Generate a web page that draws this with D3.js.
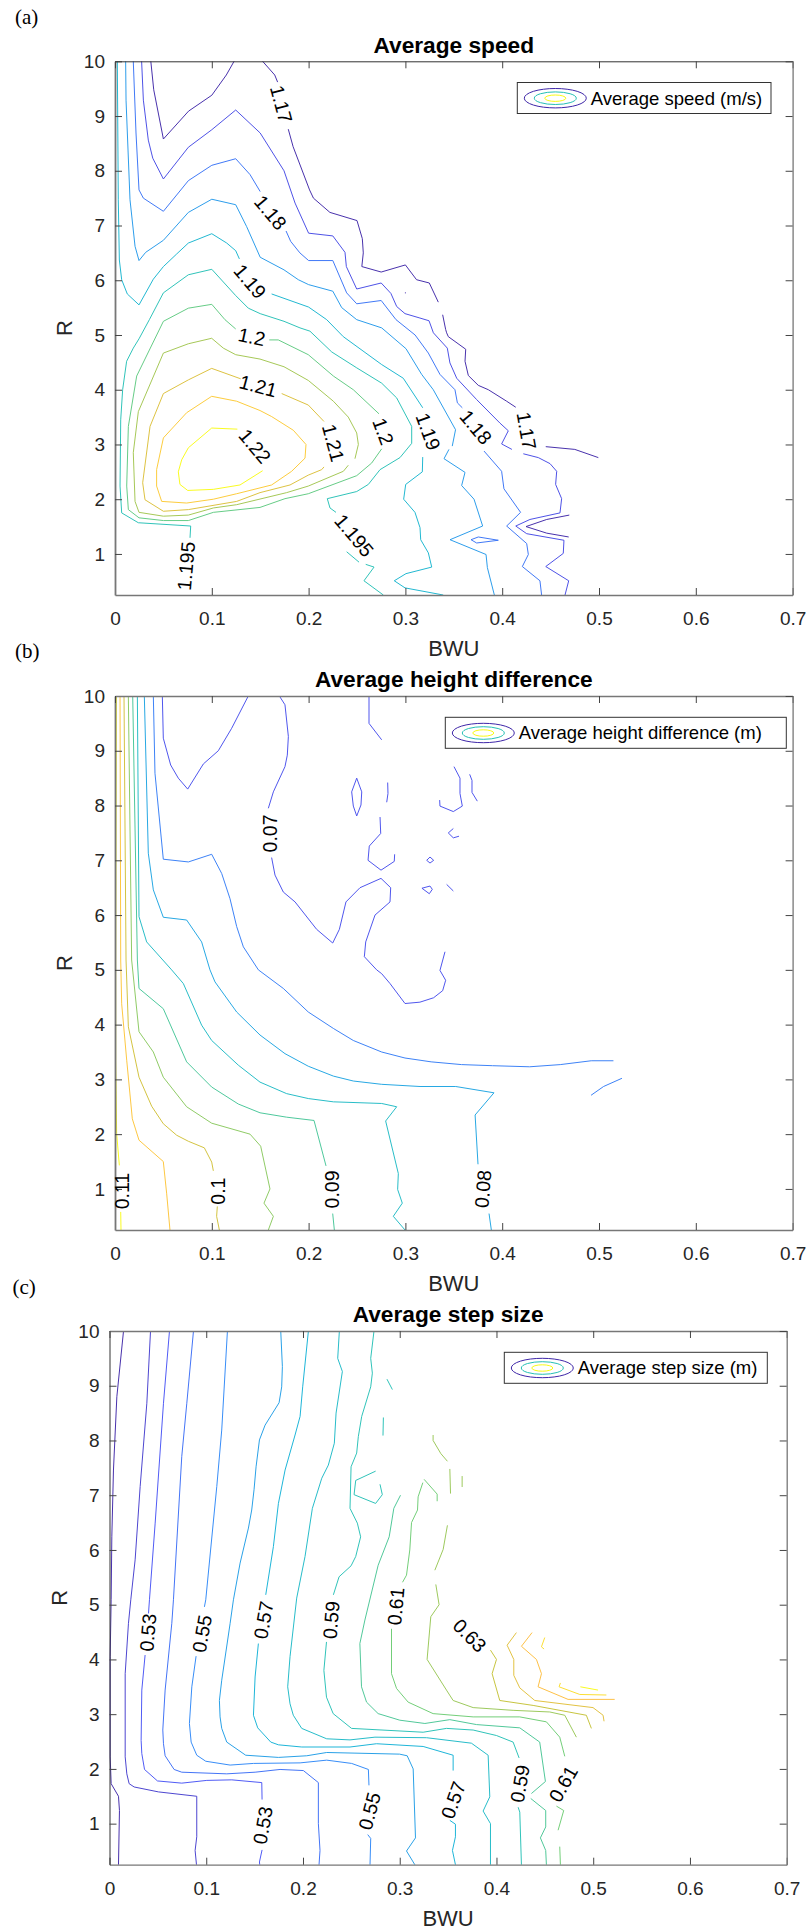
<!DOCTYPE html>
<html>
<head>
<meta charset="utf-8">
<script src="https://cdn.jsdelivr.net/npm/d3@7/dist/d3.min.js"></script>
<style>
  html, body { margin: 0; background: #fff; }
  text { font-family: "Liberation Sans", Arial, sans-serif; }
</style>
</head>
<body>
<div id="chart"></div>
<script>
//Contour plots of three walking measures over BWU and R.

var bwuTicks = [0, 0.1, 0.2, 0.3, 0.4, 0.5, 0.6, 0.7];
var rTicks = [1, 2, 3, 4, 5, 6, 7, 8, 9, 10];
var bwuRange = [0, 0.7];
var rRange = [0.25, 10];

var speedLevelRange = [1.17, 1.22];
var speedLines = [
  [1.17, [[.037,10],[.04,9.48],[.05,8.58],[.076,9.09],[.1,9.38],[.115,9.75],[.123,10]]],
  [1.17, [[.1525,10],[.165,9.75],[.168,9.62]]],
  [1.17, [[.179,8.76],[.184,8.44],[.201,7.65],[.205,7.5],[.222,7.24],[.25,7.09],[.2555,6.76],[.2565,6.5],[.255,6.25],[.275,6.15],[.3,6.28],[.3115,6.01],[.3247,5.95],[.334,5.6]]],
  [1.17, [[.3385,5.37],[.3416,5.1],[.3426,5.04],[.3443,4.97],[.3623,4.74],[.3616,4.52],[.365,4.26],[.3753,4.08],[.3857,4],[.4046,3.79],[.414,3.68]]],
  [1.17, [[.445,2.96],[.475,2.91],[.4993,2.76]]],
  [1.17, [[.4693,1.71],[.446,1.63],[.4246,1.5],[.446,1.38],[.4687,1.31]]],
  [1.17, [[.2995,5.77],[.3005,5.77]]],
  [1.175, [[.0275,10],[.0293,9.29],[.0344,8.56],[.039,8.23],[.05,7.85],[.0758,8.43],[.1,8.75],[.1247,9.11],[.15,8.69],[.1746,8],[.186,7.41],[.2,6.86],[.225,6.81],[.2376,6.51],[.239,6.25],[.2497,5.84],[.275,5.95],[.285,5.76],[.291,5.52],[.2996,5.39],[.315,5.31],[.3244,5.26],[.3289,5.04],[.3433,4.76],[.346,4.49],[.353,4.21],[.3736,3.82],[.3977,3.39],[.4063,3.25],[.3994,3.01],[.41,2.91]]],
  [1.175, [[.4218,2.83],[.4373,2.76],[.4494,2.65],[.4563,2.51],[.4552,2.27],[.4614,2.01],[.4597,1.75],[.4287,1.63],[.414,1.51],[.4253,1.37],[.4638,1.25],[.4631,1.01],[.445,.77],[.4687,.51],[.4649,.25]]],
  [1.18, [[.0189,10],[.0217,8.69],[.0248,7.65],[.0293,7.5],[.05,7.26],[.0758,7.82],[.1,8.1],[.1247,8.22],[.1395,7.93],[.15,7.62]]],
  [1.18, [[.1767,6.9],[.1815,6.71],[.191,6.5],[.2,6.36],[.225,6.36],[.2393,5.77],[.2497,5.57],[.275,5.63],[.2903,5.28],[.31,5],[.3237,4.67],[.3357,4.28],[.3512,4],[.3537,3.76],[.3588,3.67]]],
  [1.18, [[.3812,2.88],[.3994,2.51],[.4018,2.19],[.419,1.76],[.4046,1.51],[.4253,1.19],[.427,.99],[.4208,.77],[.439,.51],[.4407,.25]]],
  [1.18, [[.3678,1.26],[.3753,1.31],[.396,1.25],[.3736,1.2],[.3678,1.26]]],
  [1.185, [[.011,10],[.0114,9.29],[.0155,7.47],[.0207,6.62],[.0248,6.36],[.0317,6.51],[.05,6.73],[.0758,7.24],[.1,7.48],[.1247,7.38],[.136,6.98],[.15,6.42],[.1746,6.19],[.1894,6.01],[.2,5.92],[.225,5.8],[.2342,5.5],[.2497,5.28],[.2755,5.13],[.3006,4.75],[.3168,4.28],[.3288,4],[.3518,3.27],[.3484,2.97]]],
  [1.185, [[.345,2.91],[.3399,2.74],[.3616,2.49],[.3581,2.25],[.3709,2],[.3798,1.51],[.3461,1.26],[.3833,.99],[.3847,.75],[.3919,.25]]],
  [1.19, [[.0024,10],[.0034,7.47],[.0045,6.37],[.0069,6.01],[.0127,5.75],[.0248,5.55],[.0396,6.02],[.05,6.25],[.0637,6.48],[.0758,6.68],[.1,6.85],[.1154,6.68],[.1247,6.54],[.1285,6.39]]],
  [1.19, [[.1618,5.75],[.2,5.51],[.2187,5.28],[.2358,4.97],[.2755,4.46],[.2978,4.21],[.3179,3.67]]],
  [1.19, [[.3179,2.77],[.3175,2.5],[.3003,2.27],[.2982,2],[.3099,1.76],[.3151,1.48],[.3158,1.26],[.3237,1.02],[.3272,.76],[.3006,.64],[.2885,.51],[.2996,.38],[.3391,.25]]],
  [1.195, [[.0775,1.295],[.0782,1.51],[.0241,1.57],[.0069,1.75],[.0052,2.24],[.0059,3.45],[.0079,4],[.012,4.52],[.0189,4.76],[.0248,4.93],[.0355,5.28],[.05,5.77],[.0758,6.1],[.1,6.2],[.1247,5.72],[.1377,5.49],[.15,5.39],[.1746,5.25],[.1911,5.13],[.2014,5.07],[.2239,4.69],[.2497,4.4],[.2755,4.12],[.291,3.85],[.3065,3.33],[.3065,3.02],[.2944,2.76],[.2738,2.54],[.2617,2.27],[.2497,2.14],[.2193,2.01],[.2221,1.84],[.2283,1.76]]],
  [1.195, [[.2393,1.04],[.2521,.85]]],
  [1.195, [[.259,.81],[.2676,.76],[.2572,.51],[.2772,.25]]],
  [1.2, [[.1247,5.11],[.1136,5.28],[.1,5.56],[.0758,5.49],[.05,5.25],[.0224,4.25],[.0138,3.33],[.0121,2.24],[.0138,1.81],[.0248,1.66],[.05,1.61],[.0758,1.61],[.1016,1.76],[.1498,1.85],[.1756,2.01],[.1997,2.1],[.2497,2.43],[.2651,2.66],[.2755,2.92]]],
  [1.2, [[.2727,3.56],[.2462,4],[.2256,4.25],[.1997,4.64],[.1687,4.91],[.1594,4.91]]],
  [1.205, [[.2479,2.74],[.2514,3],[.2497,3.21],[.241,3.5],[.2256,3.79],[.1997,4.17],[.1746,4.42],[.1498,4.56],[.1247,4.64],[.1119,4.76],[.0999,4.94],[.0758,4.84],[.05,4.67],[.0241,3.6],[.0189,2.85],[.0207,1.96],[.0248,1.76],[.05,1.69],[.0758,1.71],[.1016,1.84],[.1257,1.9],[.1773,2.12],[.1997,2.24],[.2359,2.51],[.241,2.62]]],
  [1.21, [[.1298,4.2],[.0999,4.39],[.0758,4.18],[.05,3.93],[.0362,3.33],[.0286,2.3],[.031,1.99],[.05,1.78],[.0758,1.81],[.1257,1.96],[.1498,2.12],[.1808,2.26],[.1997,2.44],[.2135,2.54],[.2159,2.59]]],
  [1.21, [[.2159,3.42],[.1997,3.72],[.1722,3.93]]],
  [1.215, [[.0999,3.88],[.1257,3.79],[.1498,3.62],[.1618,3.51],[.1842,3.26],[.1973,3],[.1963,2.75],[.1825,2.51],[.1618,2.26],[.1257,2.1],[.1016,2],[.074,1.93],[.0482,1.96],[.043,2.24],[.043,2.54],[.05,3.12],[.074,3.58],[.0999,3.88]]],
  [1.22, [[.1264,3.28],[.0999,3.3],[.0758,2.94],[.0689,2.72],[.0654,2.5],[.0671,2.27],[.0751,2.16],[.1016,2.18],[.1291,2.26],[.1525,2.52]]]
];
//[text, BWU, R, rotation]
var speedLabels = [
  ["1.17", .172, 9.22, 75], ["1.18", .1608, 7.24, 50], ["1.19", .1395, 5.98, 50],
  ["1.2", .1412, 4.97, 12], ["1.21", .148, 4.07, 15], ["1.22", .1446, 2.97, 50],
  ["1.21", .2256, 3.03, 75], ["1.2", .2772, 3.24, 70], ["1.195", .0733, .78, -85],
  ["1.195", .2472, 1.34, 50], ["1.19", .3237, 3.24, 70], ["1.18", .3729, 3.32, 50],
  ["1.17", .4253, 3.25, 80]
];

var heightLevelRange = [0.065, 0.11];
var heightLines = [
  [.07, [[.0489,10],[.0499,9.23],[.0575,8.74],[.0654,8.5],[.0751,8.3],[.0913,8.76],[.1067,9],[.1205,9.41],[.1377,10]]],
  [.07, [[.1698,10],[.1756,9.84],[.1791,9.26],[.178,8.92],[.1756,8.71],[.1636,8.25],[.1584,7.95]]],
  [.07, [[.1618,7.05],[.1653,6.73],[.1739,6.42],[.186,6.24],[.2083,5.74],[.2249,5.49],[.2318,5.74],[.2386,6.24],[.2531,6.5],[.2748,6.67],[.2848,6.5],[.2841,6.24],[.2686,6],[.259,5.51],[.2576,5.24],[.2703,5],[.2755,4.93],[.2841,4.75],[.2996,4.385],[.315,4.41],[.3291,4.49],[.3385,4.62],[.3416,4.81],[.3357,4.99],[.3409,5.33]]],
  [.07, [[.2624,10],[.2624,9.5],[.2755,9.2]]],
  [.07, [[.2497,8.5],[.2445,8.25],[.2462,7.99],[.2497,7.81],[.2541,8.01],[.2549,8.25],[.2497,8.5]]],
  [.07, [[.2817,8.42],[.282,8.22],[.2807,8.06]]],
  [.07, [[.2738,7.79],[.2745,7.49],[.2627,7.26],[.2614,7],[.2748,6.82],[.2885,6.98],[.2889,7.11]]],
  [.07, [[.3502,8.71],[.3564,8.5],[.3564,8.22],[.3588,7.99],[.3495,7.89],[.3357,7.99],[.3354,8.1]]],
  [.07, [[.3664,8.57],[.3688,8.46],[.3688,8.24],[.3743,8.08]]],
  [.07, [[.3495,7.58],[.3443,7.5],[.3495,7.41],[.3554,7.44]]],
  [.07, [[.3254,7.06],[.322,7],[.3254,6.95],[.3292,7],[.3254,7.06]]],
  [.07, [[.3171,6.49],[.3254,6.53],[.3278,6.47],[.3247,6.39],[.3171,6.49]]],
  [.07, [[.3426,6.56],[.3495,6.44]]],
  [.075, [[.0396,10],[.0413,8.59],[.0499,7.02],[.0758,6.97],[.0999,7.11],[.1102,6.76],[.1188,6.3],[.1257,5.79],[.1326,5.42],[.1481,5],[.1739,4.66],[.1997,4.23],[.2256,3.93],[.2462,3.71],[.2755,3.5],[.2996,3.39],[.3151,3.35],[.3266,3.32],[.358,3.27],[.39,3.25],[.4283,3.23],[.46,3.27],[.492,3.34],[.5149,3.34]]],
  [.075, [[.4918,2.71],[.5047,2.87],[.5237,3.02]]],
  [.08, [[.0303,10],[.0344,7.13],[.0396,6.46],[.0499,5.96],[.074,5.91],[.0895,5.51],[.0981,5],[.1033,4.78],[.1257,4.23],[.1498,3.81],[.1756,3.47],[.1997,3.24],[.2256,3.06],[.2462,2.97],[.2755,2.91],[.3151,2.87],[.352,2.87],[.3915,2.755],[.372,2.35],[.375,1.45]]],
  [.08, [[.3864,.55],[.3888,.25]]],
  [.085, [[.0231,10],[.0248,5.97],[.0327,5.51],[.0585,5],[.0706,4.75],[.0895,3.99],[.0999,3.71],[.1274,3.26],[.1498,2.95],[.1773,2.74],[.1997,2.65],[.2256,2.59],[.2755,2.56],[.291,2.5],[.2796,2.24],[.2927,1.28],[.292,.99],[.2968,.74],[.2875,.5],[.2996,.25]]],
  [.09, [[.0183,10],[.0231,5.18],[.0248,4.66],[.0499,4.29],[.074,3.32],[.0999,2.86],[.1274,2.55],[.1498,2.39],[.1773,2.31],[.2056,2.25],[.218,1.42]]],
  [.09, [[.2249,.55],[.2266,.25]]],
  [.095, [[.0138,10],[.0172,5.18],[.0248,3.87],[.0396,3.5],[.0499,3.04],[.074,2.5],[.0999,2.2],[.1395,2],[.1505,1.78],[.1601,1],[.1539,.74],[.1636,.5],[.1584,.25]]],
  [.1, [[.0093,10],[.0114,5.18],[.0138,3.96],[.0248,3.04],[.0379,2.51],[.0499,2.19],[.0637,1.98],[.0758,1.87],[.0923,1.75],[.0999,1.49],[.1016,1.33]]],
  [.1, [[.1057,.68],[.105,.5],[.1078,.25]]],
  [.105, [[.0052,10],[.0059,5.18],[.0069,4.38],[.0121,3.35],[.0179,2.28],[.0248,1.89],[.0499,1.5],[.0534,.91],[.0568,.25]]],
  [.11, [[.0014,10],[.0007,5.18],[.0007,3.35],[.0017,2.01],[.0045,1.43]]],
  [.11, [[.0059,.58],[.0062,.25]]]
];
var heightLabels = [
  ["0.07", .1601, 7.49, -90], ["0.11", .0076, .96, -90], ["0.1", .1067, .96, -90],
  ["0.09", .2238, .99, -90], ["0.08", .38, 1, -85]
];

var stepLevelRange = [0.51, 0.67];
var stepLines = [
  [.51, [[.0145,10],[.0076,8.8],[.0041,7.46],[.0024,6.24],[.0017,5.09],[.0007,4.05],[.0007,2.22],[.0017,1.73],[.0093,1.5],[.0103,1.24],[.0093,.25]]],
  [.52, [[.0424,10],[.0386,8.68],[.0317,7.16],[.0265,5.82],[.022,5.09],[.0196,4.66],[.0162,3.74],[.0162,2.22],[.0179,1.91],[.0203,1.73],[.0255,1.67],[.0506,1.58],[.0902,1.5],[.0902,.76],[.0885,.51],[.0899,.25]]],
  [.53, [[.062,10],[.0558,8.68],[.0472,6.49],[.0413,5.09],[.0403,4.84]]],
  [.53, [[.0368,4.08],[.0334,3.44],[.0327,2.52],[.0334,2.28],[.0362,1.99],[.0496,1.78],[.0747,1.74],[.1006,1.79],[.1264,1.8],[.1574,1.75],[.1577,1.44]]],
  [.53, [[.1577,.52],[.155,.3],[.1553,.25]]],
  [.54, [[.0868,10],[.0799,8.68],[.0747,7.71],[.0661,5.09],[.0644,4.66],[.0575,3.44],[.0551,2.71],[.0558,2.46],[.0575,2.24],[.0668,1.99],[.0747,1.94],[.1212,1.91],[.1505,1.94],[.1763,1.99],[.2004,1.97],[.2159,1.75],[.2159,1],[.2176,.51],[.2166,.25]]],
  [.55, [[.1219,10],[.116,8.19],[.1109,7.16],[.0995,5.09],[.0981,4.96]]],
  [.55, [[.0895,4.06],[.0851,3.5],[.0826,2.83],[.0844,2.49],[.0902,2.25],[.0995,2.14],[.1247,2.07],[.1488,2.1],[.197,2.11],[.2245,2.16],[.2503,2.1],[.2676,1.99],[.2682,1.7]]],
  [.55, [[.2669,.8],[.27,.73],[.2693,.25]]],
  [.56, [[.177,10],[.1787,9.35],[.178,8.98],[.1753,8.69],[.1608,8.28],[.155,8.01],[.1515,7.52],[.1494,7.1],[.147,6.73],[.1436,6.4],[.135,5.76],[.1281,5.09],[.1247,4.66],[.116,3.62],[.1136,3.25],[.1143,2.95],[.116,2.74],[.1212,2.49],[.1408,2.25],[.1746,2.21],[.2039,2.24],[.2245,2.3],[.2998,2.27],[.3077,2.24],[.3139,2],[.3163,.74],[.307,.5],[.3156,.25]]],
  [.57, [[.2056,10],[.1997,8.98],[.197,8.44],[.1918,8.1],[.1815,7.46],[.1746,6.85],[.1694,6.06],[.1615,5.18]]],
  [.57, [[.1539,4.29],[.1505,3.68],[.1488,2.98],[.1532,2.75],[.1667,2.49],[.1746,2.44],[.1987,2.4],[.2486,2.4],[.276,2.46],[.3242,2.41],[.3552,2.25],[.3552,1.97]]],
  [.57, [[.3518,1.06],[.3576,.99],[.3576,.76],[.3545,.51],[.3576,.25]]],
  [.58, [[.2376,10],[.2359,9.5],[.2407,9.26],[.2342,8.5],[.2324,7.95],[.2262,7.55],[.2194,7.31],[.2097,6.76],[.2021,5.88],[.1935,5.12],[.1866,4.05],[.1842,3.5],[.1866,3.19],[.19,2.98],[.1987,2.74],[.2245,2.55],[.2486,2.53],[.2744,2.58],[.3277,2.57],[.3741,2.47],[.3914,2.25],[.3931,1.49],[.3862,1.23],[.3938,1],[.3938,.25]]],
  [.59, [[.2734,10],[.27,9.5],[.2717,9.23],[.27,8.98],[.2607,8.44],[.2572,8.07],[.2555,7.77],[.2497,7.52],[.2486,6.76],[.2562,6.49],[.2596,6.24],[.2545,5.88],[.2497,5.71],[.2373,5.51],[.2314,5.18]]],
  [.59, [[.2243,4.32],[.2216,3.8],[.2243,3.31],[.2312,3.01],[.2502,2.74],[.3242,2.67],[.3483,2.74],[.3759,2.71],[.4,2.61],[.4172,2.49],[.4234,2.2]]],
  [.59, [[.4224,1.3],[.4241,1.21],[.4258,.25]]],
  [.59, [[.2868,9.12],[.2924,8.93]]],
  [.59, [[.2831,8.42],[.2827,8.09]]],
  [.59, [[.2751,7.44],[.2545,7.27],[.2528,7.01],[.2751,6.85],[.282,7.01],[.2796,7.2]]],
  [.6, [[.3008,7],[.2939,6.76],[.2891,6.24],[.2777,5.72],[.264,4.72],[.2588,4.29],[.2605,3.5],[.2657,3.22],[.2777,3.01],[.3001,2.89],[.326,2.83],[.3518,2.9],[.3793,2.81],[.4241,2.75],[.4447,2.49],[.4506,1.77],[.4361,1.55]]],
  [.6, [[.4354,1.46],[.4509,1.24],[.4509,.94],[.4454,.74],[.4509,.51],[.4516,.25]]],
  [.61, [[.3252,7.29],[.3387,7.02],[.3387,6.89]]],
  [.61, [[.3239,7.23],[.319,6.97],[.3184,6.73],[.3122,6.5],[.3104,6],[.307,5.54],[.3029,5.41]]],
  [.61, [[.2915,4.56],[.2915,3.74],[.2967,3.47],[.3087,3.22],[.3345,3.01],[.3759,2.95],[.4241,2.95],[.4516,2.86],[.4654,2.58],[.4706,2.23]]],
  [.61, [[.462,1.32],[.4695,1.24],[.4637,.88]]],
  [.61, [[.4654,.58],[.4661,.25]]],
  [.62, [[.3345,8.1],[.3345,8],[.3425,7.76],[.3493,7.62]]],
  [.62, [[.3518,7.48],[.3525,7.03]]],
  [.62, [[.3645,7.35],[.3645,7.15]]],
  [.62, [[.3493,6.45],[.3449,6.01],[.3363,5.63]]],
  [.62, [[.3373,5.37],[.3407,5],[.3321,4.78],[.3283,4],[.3483,3.44],[.3552,3.25],[.3759,3.12],[.4172,3.07],[.4551,3.04],[.4706,2.98],[.4826,2.58]]],
  [.63, [[.3938,4.17],[.4,4],[.3955,3.74],[.4034,3.25],[.4379,3.16],[.4929,2.98],[.4981,2.74]]],
  [.64, [[.4206,4.49],[.411,4.26],[.4179,4],[.4179,3.71],[.4241,3.48],[.4396,3.25],[.4998,3.12],[.5102,2.98],[.5112,2.87]]],
  [.65, [[.4368,4.49],[.4258,4.24],[.4413,4],[.4465,3.74],[.443,3.5],[.474,3.27],[.5222,3.27]]],
  [.66, [[.4499,4.4],[.4465,4.23],[.4492,4.19]]],
  [.66, [[.4661,3.57],[.4647,3.5],[.4861,3.36],[.5136,3.35]]],
  [.67, [[.4867,3.5],[.505,3.44]]]
];
var stepLabels = [
  ["0.53", .0396, 4.49, -85], ["0.55", .0954, 4.47, -80], ["0.57", .1591, 4.72, -80],
  ["0.59", .229, 4.72, -85], ["0.61", .2958, 4.97, -85], ["0.53", .1584, .97, -80],
  ["0.55", .2686, 1.23, -75], ["0.57", .3552, 1.43, -70], ["0.59", .4241, 1.73, -80],
  ["0.61", .4688, 1.73, -60], ["0.63", .3724, 4.44, 45]
];

//parula colour ramp
var parulaStops = ["#3e26a8", "#4752f4", "#2d87f7", "#12b1d6", "#25c0b5", "#6ccb72", "#c4c136", "#fdbd3c", "#f9fb15"];
var parula = d3.piecewise(d3.interpolateRgb, parulaStops);

var width = 808;
var height = 1930;
var svg = d3.select("#chart")
  .append("svg")
  .attr("width", width)
  .attr("height", height)
  .style("display", "block");

function drawPanel(p){
  var x = d3.scaleLinear().domain(bwuRange).range([p.left, p.right]);
  var y = d3.scaleLinear().domain(rRange).range([p.bottom, p.top]);
  var color = d3.scaleLinear().domain(p.levels).range([0, 1]);
  var line = d3.line().x(d => x(d[0])).y(d => y(d[1]));
  var g = svg.append("g");

  g.append("g").selectAll("path")
    .data(p.lines)
    .enter().append("path")
      .attr("d", d => line(d[1]))
      .attr("fill", "none")
      .attr("stroke", d => parula(color(d[0])))
      .attr("stroke-width", 0.95);

  //box: MATLAB style ticks pointing inward on all four sides
  var axes = [
    {a: d3.axisBottom(x).tickValues(bwuTicks).tickFormat(String), at: [0, p.bottom], stroke: p.sideStroke, pad: 17},
    {a: d3.axisLeft(y).tickValues(rTicks).tickFormat(String), at: [p.left, 0], stroke: p.leftStroke, pad: 10},
    {a: d3.axisTop(x).tickValues(bwuTicks).tickFormat(""), at: [0, p.top], stroke: p.topStroke, pad: 10},
    {a: d3.axisRight(y).tickValues(rTicks).tickFormat(""), at: [p.right, 0], stroke: p.sideStroke, pad: 10}
  ];
  axes.forEach(ax => {
    ax.a.tickSizeInner(-7).tickSizeOuter(0).tickPadding(ax.pad);
    var s = g.append("g")
      .attr("transform", "translate(" + ax.at + ")")
      .call(ax.a);
    s.select(".domain").attr("stroke", ax.stroke[0]).attr("stroke-width", ax.stroke[1]);
    s.selectAll(".tick line").attr("stroke", "#444").attr("stroke-width", 1);
    s.selectAll(".tick text").attr("fill", "#262626").style("font-size", "19px");
  });

  g.append("g").selectAll("text")
    .data(p.labels)
    .enter().append("text")
      .attr("transform", d => "translate(" + x(d[1]) + "," + y(d[2]) + ") rotate(" + d[3] + ")")
      .attr("text-anchor", "middle")
      .attr("dy", "0.36em")
      .attr("fill", "#000")
      .style("font-size", "19.5px")
      .text(d => d[0]);

  var mid = (p.left + p.right) / 2;
  g.append("text")
    .attr("x", mid)
    .attr("y", p.top - 8.6)
    .attr("text-anchor", "middle")
    .style("font-size", "22.7px")
    .style("font-weight", "bold")
    .text(p.title);
  g.append("text")
    .attr("x", mid)
    .attr("y", p.bottom + 61)
    .attr("text-anchor", "middle")
    .attr("fill", "#262626")
    .style("font-size", "22px")
    .text("BWU");
  g.append("text")
    .attr("transform", "translate(" + (p.left - 43) + "," + ((p.top + p.bottom) / 2) + ") rotate(-90)")
    .attr("text-anchor", "middle")
    .attr("fill", "#262626")
    .style("font-size", "22px")
    .text("R");
  g.append("text")
    .attr("x", p.tagX)
    .attr("y", p.tagY)
    .style("font-family", "'Liberation Serif', serif")
    .style("font-size", "21px")
    .text(p.tag);

  //legend with the three nested ellipses
  var lg = g.append("g").attr("transform", "translate(" + p.legendX + "," + p.legendY + ")");
  lg.append("rect")
    .attr("width", p.legendW)
    .attr("height", 31)
    .attr("fill", "#fff")
    .attr("stroke", "#333")
    .attr("stroke-width", 1);
  [[31, 9.7, 0], [21, 6.3, 0.5], [10.5, 3.2, 1]].forEach(e => {
    lg.append("ellipse")
      .attr("cx", 38)
      .attr("cy", 15.7)
      .attr("rx", e[0])
      .attr("ry", e[1])
      .attr("fill", "none")
      .attr("stroke", parula(e[2]))
      .attr("stroke-width", 1);
  });
  lg.append("text")
    .attr("x", 73.5)
    .attr("y", 22)
    .attr("fill", "#000")
    .style("font-size", "18.5px")
    .text(p.legend);
}

drawPanel({
  left: 115, right: 792.6, top: 61.3, bottom: 595,
  lines: speedLines, labels: speedLabels, levels: speedLevelRange,
  title: "Average speed", legend: "Average speed (m/s)",
  tag: "(a)", tagX: 15, tagY: 24,
  legendX: 517.3, legendY: 82.5, legendW: 253.7,
  topStroke: ["#333", 1], leftStroke: ["#777", 1.8], sideStroke: ["#777", 1.3]
});
drawPanel({
  left: 115, right: 792.6, top: 696, bottom: 1230,
  lines: heightLines, labels: heightLabels, levels: heightLevelRange,
  title: "Average height difference", legend: "Average height difference (m)",
  tag: "(b)", tagX: 15, tagY: 658,
  legendX: 445.3, legendY: 717.3, legendW: 341,
  topStroke: ["#777", 1.3], leftStroke: ["#777", 1.8], sideStroke: ["#777", 1.3]
});
drawPanel({
  left: 109.5, right: 786.7, top: 1331, bottom: 1864.7,
  lines: stepLines, labels: stepLabels, levels: stepLevelRange,
  title: "Average step size", legend: "Average step size (m)",
  tag: "(c)", tagX: 12.5, tagY: 1294,
  legendX: 504.3, legendY: 1352.3, legendW: 263,
  topStroke: ["#777", 1.3], leftStroke: ["#333", 1], sideStroke: ["#777", 1.3]
});
</script>
</body>
</html>
